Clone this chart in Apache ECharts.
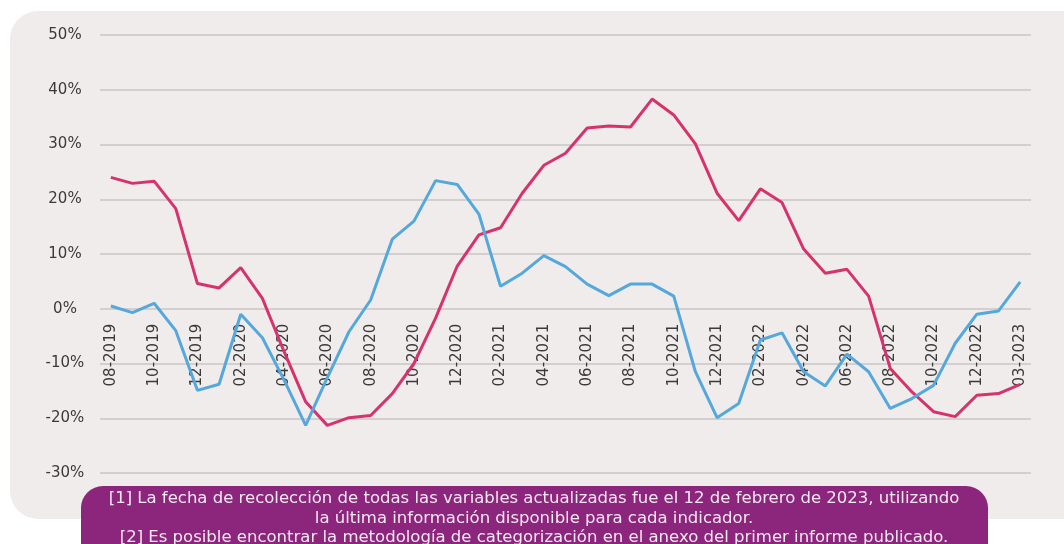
<!DOCTYPE html>
<html>
<head>
<meta charset="utf-8">
<script src="https://cdn.jsdelivr.net/npm/echarts@6/dist/echarts.min.js"></script>
<style>
html,body{margin:0;padding:0;background:#ffffff;}
#chart{width:1064px;height:544px;}
</style>
</head>
<body>
<div id="chart"></div>
<script>
const categories = [
  "08-2019","09-2019","10-2019","11-2019","12-2019",
  "01-2020","02-2020","03-2020","04-2020","05-2020","06-2020","07-2020","08-2020","09-2020","10-2020","11-2020","12-2020",
  "01-2021","02-2021","03-2021","04-2021","05-2021","06-2021","07-2021","08-2021","09-2021","10-2021","11-2021","12-2021",
  "01-2022","02-2022","03-2022","04-2022","05-2022","06-2022","07-2022","08-2022","09-2022","10-2022","11-2022","12-2022",
  "01-2023","03-2023"
];
const seriesPink = [
  24.0, 22.9, 23.3, 18.3, 4.6, 3.8, 7.5, 1.9, -7.8, -17.0, -21.3, -19.9, -19.5, -15.5, -10.0, -1.7,
  7.8, 13.5, 14.8, 21.1, 26.2, 28.4, 33.0, 33.4, 33.2, 38.3, 35.4, 30.1, 21.1, 16.1, 21.9, 19.4,
  10.9, 6.5, 7.2, 2.3, -10.9, -15.2, -18.8, -19.7, -15.8, -15.5, -13.8
];
const seriesBlue = [
  0.5, -0.7, 1.0, -4.0, -14.9, -13.8, -1.0, -5.3, -13.0, -21.3, -12.6, -4.2, 1.6, 12.7, 16.0, 23.4,
  22.7, 17.3, 4.1, 6.5, 9.7, 7.7, 4.5, 2.4, 4.5, 4.5, 2.3, -11.5, -19.9, -17.3, -5.7, -4.4,
  -11.5, -14.1, -8.3, -11.5, -18.2, -16.4, -14.0, -6.3, -1.0, -0.4, 4.9
];
const yTicks = { min: -30, max: 50, interval: 10 };
const footnotes = [
  "[1] La fecha de recolección de todas las variables actualizadas fue el 12 de febrero de 2023, utilizando",
  "la última información disponible para cada indicador.",
  "[2] Es posible encontrar la metodología de categorización en el anexo del primer informe publicado."
];

const FONT = "DejaVu Sans";
const NOTE_FONT = '16.5px ' + FONT;
const GRID = { left: 100, right: 33, top: 35, bottom: 71 };
const plotHeight = 544 - GRID.top - GRID.bottom;
// move the category axis up to the zero line
const zeroOffset = -plotHeight * (0 - yTicks.min) / (yTicks.max - yTicks.min);

const chart = echarts.init(document.getElementById('chart'), null, {renderer: 'canvas'});
chart.setOption({
  animation: false,
  backgroundColor: '#ffffff',
  textStyle: { fontFamily: FONT },
  graphic: [
    { type: 'rect', z: -10, shape: { x: 10, y: 11, width: 1090, height: 508, r: 28 }, style: { fill: '#f1ecec' } },
    { type: 'rect', z: 10, shape: { x: 81, y: 486, width: 907, height: 90, r: 22 }, style: { fill: '#8b267c' } },
    { type: 'text', z: 11, style: { text: footnotes[0], x: 534, y: 499, fill: '#f4e9f2', font: NOTE_FONT, textAlign: 'center', textVerticalAlign: 'middle' } },
    { type: 'text', z: 11, style: { text: footnotes[1], x: 534, y: 519, fill: '#f4e9f2', font: NOTE_FONT, textAlign: 'center', textVerticalAlign: 'middle' } },
    { type: 'text', z: 11, style: { text: footnotes[2], x: 534, y: 538, fill: '#f4e9f2', font: NOTE_FONT, textAlign: 'center', textVerticalAlign: 'middle' } }
  ],
  grid: Object.assign({ containLabel: false, outerBoundsMode: 'none' }, GRID),
  xAxis: {
    type: 'category',
    data: categories,
    boundaryGap: true,
    offset: zeroOffset,
    axisLine: { show: false, onZero: false },
    axisTick: { show: false },
    axisLabel: { interval: 1, rotate: 90, margin: 15, color: '#3a3a3a', fontSize: 15, fontFamily: FONT }
  },
  yAxis: {
    type: 'value',
    min: yTicks.min, max: yTicks.max, interval: yTicks.interval,
    axisLine: { show: false },
    axisTick: { show: false },
    splitLine: { lineStyle: { color: '#c9c6c6', width: 1.5 } },
    axisLabel: { formatter: '{value}%', align: 'center', margin: 35, color: '#3a3a3a', fontSize: 15, fontFamily: FONT }
  },
  series: [
    { name: 'Serie 1', type: 'line', data: seriesPink, symbol: 'none', z: 3,
      lineStyle: { color: '#d6336e', width: 3 }, itemStyle: { color: '#d6336e' } },
    { name: 'Serie 2', type: 'line', data: seriesBlue, symbol: 'none', z: 4,
      lineStyle: { color: '#55a8db', width: 3 }, itemStyle: { color: '#55a8db' } }
  ]
});
</script>
</body>
</html>
